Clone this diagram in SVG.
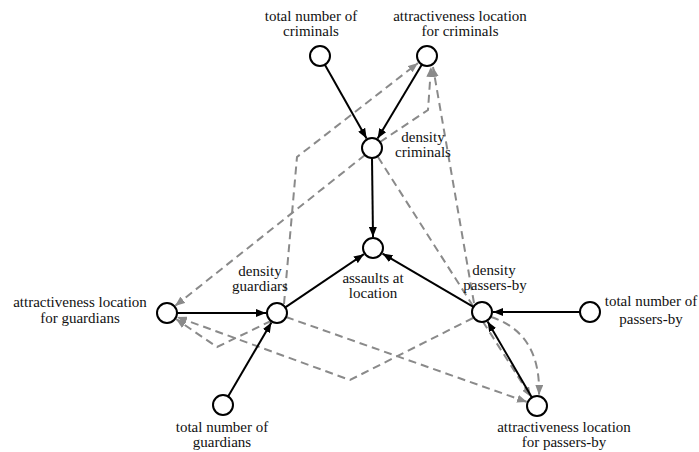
<svg xmlns="http://www.w3.org/2000/svg" width="699" height="452" viewBox="0 0 699 452">
<defs>
<style>
.node circle{fill:#fff;stroke:#000;stroke-width:2}
.lbl{font-family:"Liberation Serif","Times New Roman",serif;font-size:15px;fill:#111;text-anchor:middle}
.solid{fill:none;stroke:#000;stroke-width:2;marker-end:url(#ah)}
.dash{fill:none;stroke:#8a8a8a;stroke-width:2;stroke-dasharray:8 5;marker-end:url(#dh)}
</style>
<marker id="ah" markerUnits="userSpaceOnUse" viewBox="0 0 10 8" markerWidth="10" markerHeight="8" refX="10" refY="4" orient="auto"><path d="M0,0 L10,4 L0,8 Z" fill="#000"/></marker>
<marker id="dh" markerUnits="userSpaceOnUse" viewBox="0 0 10 8" markerWidth="10" markerHeight="8" refX="10" refY="4" orient="auto"><path d="M0,0 L10,4 L0,8 Z" fill="#8a8a8a"/></marker>
</defs>
<rect width="699" height="452" fill="#fff"/>
<g id="connectors">
<path class="dash" d="M284,304 L297,157 L418,63"/>
<path class="dash" d="M380,142 L428,110 L431,67"/>
<path class="dash" d="M474,303 L433,67"/>
<path class="dash" d="M365,155 L175,306"/>
<path class="dash" d="M271,321 L217,347 L176,319"/>
<path class="dash" d="M473,318 L350,380 L177,317"/>
<path class="dash" d="M286,317 L527,402"/>
<path class="dash" d="M378,157 L531,397"/>
<path class="dash" d="M491,317 Q541,333 539,395"/>
<path class="solid" d="M324.9,64.7 L366.6,138.4"/>
<path class="solid" d="M421.9,64.6 L377.6,138.6"/>
<path class="solid" d="M372,158 L373,237"/>
<path class="solid" d="M285.3,307.4 L363.9,254.2"/>
<path class="solid" d="M473.4,306.9 L382.5,253.6"/>
<path class="solid" d="M177,313 L266,313"/>
<path class="solid" d="M228.1,396.4 L271.4,322.5"/>
<path class="solid" d="M580,312 L493,312"/>
<path class="solid" d="M531.9,397.4 L487.6,321.5"/>
</g>
<g id="total_criminals" class="node"><circle cx="320" cy="56" r="10"/><text class="lbl" x="311" y="21">total number of</text><text class="lbl" x="311" y="36">criminals</text></g>
<g id="attr_criminals" class="node"><circle cx="427" cy="56" r="10"/><text class="lbl" x="460" y="21">attractiveness location</text><text class="lbl" x="460" y="36">for criminals</text></g>
<g id="density_criminals" class="node"><circle cx="372" cy="148" r="10"/><text class="lbl" x="423" y="142">density</text><text class="lbl" x="423" y="157">criminals</text></g>
<g id="assaults" class="node"><circle cx="373" cy="248" r="10"/><text class="lbl" x="373" y="283">assaults at</text><text class="lbl" x="373" y="298">location</text></g>
<g id="density_guardians" class="node"><circle cx="277" cy="313" r="10"/><text class="lbl" x="260" y="276">density</text><text class="lbl" x="260" y="291">guardiars</text></g>
<g id="attr_guardians" class="node"><circle cx="167" cy="313" r="10"/><text class="lbl" x="80" y="307">attractiveness location</text><text class="lbl" x="80" y="323">for guardians</text></g>
<g id="total_guardians" class="node"><circle cx="223" cy="405" r="10"/><text class="lbl" x="222" y="432">total number of</text><text class="lbl" x="222" y="447">guardians</text></g>
<g id="density_passers" class="node"><circle cx="482" cy="312" r="10"/><text class="lbl" x="494" y="275">density</text><text class="lbl" x="495" y="290">passers-by</text></g>
<g id="total_passers" class="node"><circle cx="590" cy="312" r="10"/><text class="lbl" x="651" y="306">total number of</text><text class="lbl" x="651" y="324">passers-by</text></g>
<g id="attr_passers" class="node"><circle cx="537" cy="406" r="10"/><text class="lbl" x="564" y="432">attractiveness location</text><text class="lbl" x="564" y="447">for passers-by</text></g>
</svg>
